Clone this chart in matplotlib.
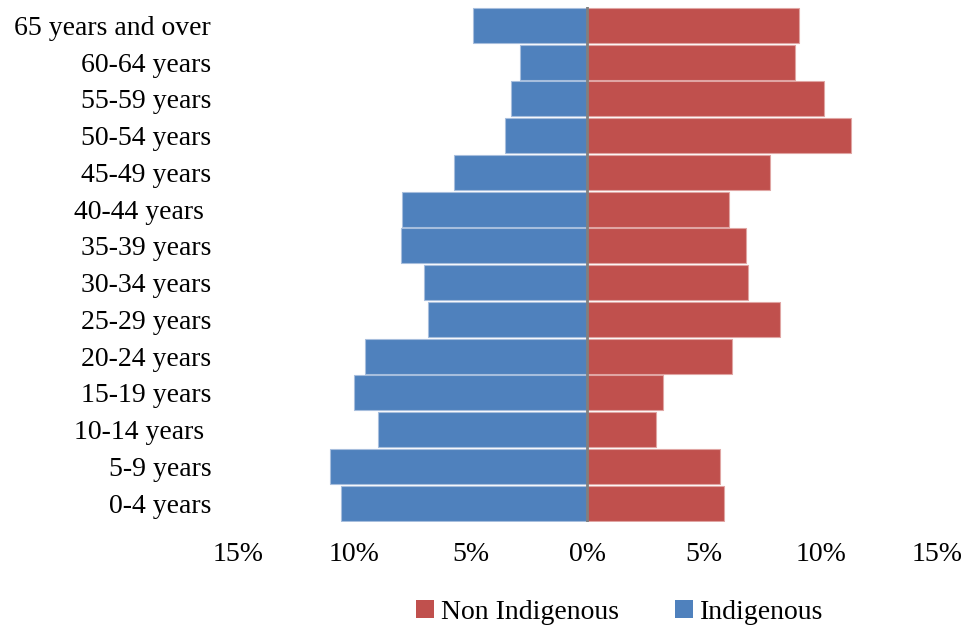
import matplotlib
matplotlib.use("Agg")
import matplotlib.pyplot as plt
from matplotlib.patches import Patch

plt.rcParams["font.family"] = ["Liberation Serif", "DejaVu Serif"]

# Age groups, bottom to top
age_groups = ["0-4 years", "5-9 years", "10-14 years ", "15-19 years", "20-24 years",
              "25-29 years", "30-34 years", "35-39 years", "40-44 years ", "45-49 years",
              "50-54 years", "55-59 years", "60-64 years", "65 years and over"]

# Share of population in each age group (%)
indigenous = [10.56, 11.02, 8.96, 9.99, 9.53, 6.84, 7.01, 7.98, 7.93, 5.70, 3.52, 3.29, 2.89, 4.89]
non_indigenous = [5.87, 5.70, 2.95, 3.23, 6.21, 8.27, 6.90, 6.78, 6.09, 7.81, 11.30, 10.16, 8.90, 9.07]

x_ticks = [-15, -10, -5, 0, 5, 10, 15]
x_tick_labels = ["15%", "10%", "5%", "0%", "5%", "10%", "15%"]

blue = "#4F81BD"
red = "#C0504D"

fig = plt.figure(figsize=(9.64, 6.26), dpi=100)
ax = fig.add_axes([0.2465, 0.1669, 0.7257, 0.8218])

pos = list(range(len(age_groups)))
ax.barh(pos, [-v for v in indigenous], height=0.95, color=blue,
        edgecolor="#A7BEDD", linewidth=0.8, zorder=2)
ax.barh(pos, non_indigenous, height=0.95, color=red,
        edgecolor="#E0A5A3", linewidth=0.8, zorder=2)

ax.axvline(0, color="#808080", linewidth=2.0, zorder=3)

ax.set_xlim(-15, 15)
ax.set_ylim(-0.5, len(age_groups) - 0.5)
ax.set_xticks(x_ticks)
ax.set_xticklabels(x_tick_labels)
ax.set_yticks(pos)
ax.set_yticklabels(age_groups)
ax.tick_params(axis="both", length=0, labelsize=20)
ax.tick_params(axis="y", pad=19)
ax.tick_params(axis="x", pad=15)
for side in ["left", "right", "top", "bottom"]:
    ax.spines[side].set_visible(False)

handles = [Patch(facecolor=red, edgecolor="none"),
           Patch(facecolor=blue, edgecolor="none")]
fig.legend(handles, ["Non Indigenous", "Indigenous"], loc="center",
           bbox_to_anchor=(0.643, 0.022), ncol=2, frameon=False, fontsize=20,
           handlelength=0.65, handleheight=0.65, handletextpad=0.25,
           columnspacing=2.0, borderpad=0)

fig.savefig("out.png", dpi=100)
